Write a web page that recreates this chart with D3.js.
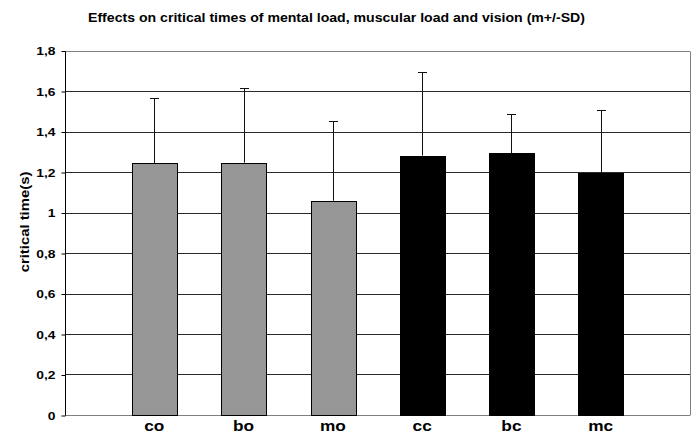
<!DOCTYPE html>
<html>
<head>
<meta charset="utf-8">
<script src="https://cdn.jsdelivr.net/npm/d3@7"></script>
<style>
  html, body { margin: 0; padding: 0; background: #fff; }
  svg { display: block; }
  text { font-family: "Liberation Sans", Arial, sans-serif; font-weight: bold; fill: #000; }
</style>
</head>
<body>
<svg id="chart" width="697" height="433"></svg>
<script>
// Conditions: open eyes (o) and closed eyes (c)
const categories = ["co", "bo", "mo", "cc", "bc", "mc"];
const means = [1.243, 1.246, 1.058, 1.281, 1.292, 1.195];
const sds = [0.321, 0.370, 0.392, 0.414, 0.196, 0.311];
const groups = ["open", "open", "open", "closed", "closed", "closed"];
const yTicks = [0, 0.2, 0.4, 0.6, 0.8, 1, 1.2, 1.4, 1.6, 1.8];
const yTickLabels = ["0", "0,2", "0,4", "0,6", "0,8", "1", "1,2", "1,4", "1,6", "1,8"];

const FONT = "Liberation Sans, Arial, sans-serif";
const svg = d3.select("#chart");
const plot = { left: 65, right: 690, top: 50.5, bottom: 415 };

const y = d3.scaleLinear().domain([0, 1.8]).range([plot.bottom, plot.top]);
const x = d3.scaleBand()
  .domain(categories)
  .range([plot.left, plot.right])
  .paddingInner(0.5)
  .paddingOuter(0.75);
const fill = d3.scaleOrdinal().domain(["open", "closed"]).range(["#969696", "#000000"]);
const px = v => Math.round(v) + 0.5;

// Widen glyphs horizontally (the chart's lettering is a wide bold sans)
function widen(sel, factor) {
  sel.each(function () {
    const w = this.getComputedTextLength();
    d3.select(this)
      .attr("textLength", w * factor)
      .attr("lengthAdjust", "spacingAndGlyphs");
  });
}

// Horizontal gridlines
svg.append("g")
  .selectAll("line")
  .data(yTicks.slice(1))
  .join("line")
  .attr("x1", plot.left).attr("x2", plot.right)
  .attr("y1", d => px(y(d)))
  .attr("y2", d => px(y(d)))
  .attr("stroke", d => d === 1.8 ? "#808080" : "#2a2a2a")
  .attr("stroke-width", 1);

// Right border and baseline
svg.append("line")
  .attr("x1", px(plot.right)).attr("x2", px(plot.right))
  .attr("y1", px(y(1.8))).attr("y2", px(y(0)))
  .attr("stroke", "#808080");
svg.append("line")
  .attr("x1", plot.left).attr("x2", plot.right)
  .attr("y1", px(y(0))).attr("y2", px(y(0)))
  .attr("stroke", "#808080");

// Error bars (upper SD only)
const err = svg.append("g").attr("stroke", "#111").attr("stroke-width", 1);
categories.forEach((c, i) => {
  const cx = px(x(c) + x.bandwidth() / 2);
  const top = px(y(means[i] + sds[i]));
  err.append("line").attr("x1", cx).attr("x2", cx)
    .attr("y1", y(means[i])).attr("y2", top);
  err.append("line").attr("x1", cx - 4.5).attr("x2", cx + 4.5)
    .attr("y1", top).attr("y2", top);
});

// Bars
svg.append("g")
  .selectAll("rect")
  .data(categories)
  .join("rect")
  .attr("x", d => px(x(d)))
  .attr("y", (d, i) => px(y(means[i])))
  .attr("width", Math.round(x.bandwidth()))
  .attr("height", (d, i) => Math.round(y(0)) - Math.round(y(means[i])))
  .attr("fill", (d, i) => fill(groups[i]))
  .attr("stroke", "#000")
  .attr("stroke-width", 1);

// Y axis
const yAxis = d3.axisLeft(y)
  .tickValues(yTicks)
  .tickSize(4)
  .tickPadding(6)
  .tickFormat((d, i) => yTickLabels[i]);
const ya = svg.append("g")
  .attr("transform", `translate(${plot.left + 0.5},0.5)`)
  .call(yAxis);
ya.select(".domain").attr("stroke", "#000").attr("d", `M0,${Math.round(y(1.8))}V${Math.round(y(0))}`);
ya.selectAll(".tick line").attr("stroke", "#000");
ya.selectAll(".tick text")
  .attr("font-family", FONT)
  .attr("font-weight", "bold")
  .attr("font-size", 11.5)
  .attr("fill", "#000")
  .call(widen, 1.2);

// X axis labels
const xa = svg.append("g")
  .attr("transform", `translate(0,${plot.bottom})`)
  .call(d3.axisBottom(x).tickSize(0));
xa.select(".domain").remove();
xa.selectAll(".tick text")
  .attr("y", 16)
  .attr("dy", 0)
  .attr("font-family", FONT)
  .attr("font-weight", "bold")
  .attr("font-size", 15)
  .attr("fill", "#000")
  .call(widen, 1.15);

// Y axis title
svg.append("text")
  .attr("transform", `translate(29,222) rotate(-90)`)
  .attr("text-anchor", "middle")
  .attr("font-size", 13.5)
  .text("critical time(s)")
  .call(widen, 1.1);

// Chart title
svg.append("text")
  .attr("x", 88)
  .attr("y", 22)
  .attr("font-size", 12.5)
  .attr("textLength", 497)
  .attr("lengthAdjust", "spacingAndGlyphs")
  .text("Effects on critical times of mental load, muscular load and vision (m+/-SD)");
</script>
</body>
</html>
